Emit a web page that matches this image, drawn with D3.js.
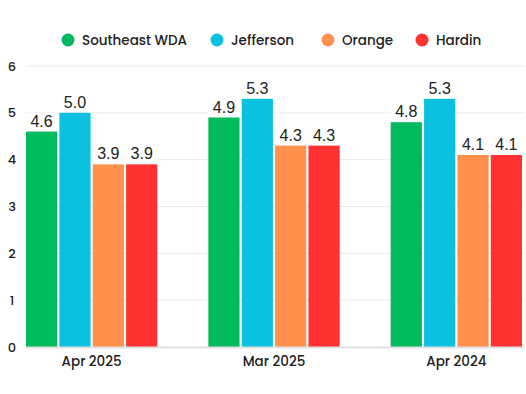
<!DOCTYPE html>
<html><head><meta charset="utf-8">
<script src="https://cdn.jsdelivr.net/npm/d3@7"></script>
<style>body{margin:0;background:#fff}svg{display:block}</style>
</head><body><svg id="c" width="526" height="394"></svg>
<script>
const categories = ["Apr 2025", "Mar 2025", "Apr 2024"];
const seriesNames = ["Southeast WDA", "Jefferson", "Orange", "Hardin"];
const seriesColors = ["#00BA5E", "#0CC0DF", "#FF914D", "#FF3131"];
const southeast = [4.6, 4.9, 4.8];
const jefferson = [5.0, 5.3, 5.3];
const orange = [3.9, 4.3, 4.1];
const hardin = [3.9, 4.3, 4.1];
const yTicks = [0, 1, 2, 3, 4, 5, 6];

const seriesValues = [southeast, jefferson, orange, hardin];
const svg = d3.select("#c");
const x0 = d3.scaleBand().domain(categories).range([26, 522]).paddingInner(0.28).paddingOuter(0);
const x1 = d3.scaleBand().domain(seriesNames).range([0, x0.bandwidth()]).paddingInner(0.065);
const y = d3.scaleLinear().domain([0, 6]).range([347, 66]);
const font = "Poppins, Inter, 'Open Sans', sans-serif";

// grid
svg.append("g").selectAll("line").data(yTicks.filter(d => d > 0)).join("line")
  .attr("x1", 26).attr("x2", 524).attr("y1", d => y(d)).attr("y2", d => y(d))
  .attr("stroke", "#ebebeb").attr("stroke-width", 1);

// y labels
svg.append("g").selectAll("text").data(yTicks).join("text")
  .attr("x", 12).attr("y", d => y(d)).attr("dy", "0.35em").attr("text-anchor", "middle")
  .attr("font-family", font).attr("font-size", 13).attr("font-weight", 500).attr("fill", "#222")
  .text(d => d);

// bars
const groups = svg.append("g").selectAll("g").data(categories).join("g")
  .attr("transform", d => `translate(${x0(d)},0)`);
groups.each(function(cat, ci) {
  const g = d3.select(this);
  const data = seriesNames.map((s, si) => ({s, si, v: seriesValues[si][ci]}));
  g.selectAll("rect").data(data).join("rect")
    .attr("x", d => x1(d.s)).attr("width", x1.bandwidth())
    .attr("y", d => y(d.v)).attr("height", d => y(0) - y(d.v))
    .attr("fill", d => seriesColors[d.si]);
  g.selectAll("rect.bg").data(data).join("rect").attr("class", "bg")
    .attr("x", d => x1(d.s)).attr("width", x1.bandwidth())
    .attr("y", d => y(d.v) - 19).attr("height", 18).attr("fill", "#fff");
  g.selectAll("text").data(data).join("text")
    .attr("x", d => x1(d.s) + x1.bandwidth() / 2).attr("y", d => y(d.v) - 5)
    .attr("text-anchor", "middle").attr("font-family", "'Liberation Sans', Arial, sans-serif")
    .attr("font-size", 16).attr("fill", "#222").text(d => d.v.toFixed(1));
});

// baseline
svg.append("line").attr("x1", 26).attr("x2", 524).attr("y1", y(0) + 0.5).attr("y2", y(0) + 0.5)
  .attr("stroke", "#e0e0e0").attr("stroke-width", 2);

// x labels
svg.append("g").selectAll("text").data(categories).join("text")
  .attr("x", d => x0(d) + x0.bandwidth() / 2).attr("y", 361).attr("dy", "0.35em")
  .attr("text-anchor", "middle").attr("font-family", font).attr("font-size", 13.5)
  .attr("font-weight", 500).attr("fill", "#222").text(d => d);

// legend
const legX = [68, 217, 328, 422];
const leg = svg.append("g").selectAll("g").data(seriesNames).join("g")
  .attr("transform", (d, i) => `translate(${legX[i]},40)`);
leg.append("circle").attr("r", 6.5).attr("fill", (d, i) => seriesColors[i]);
leg.append("text").attr("x", 14).attr("dy", "0.35em").attr("font-family", font)
  .attr("font-size", 13.5).attr("font-weight", 500).attr("fill", "#222").text(d => d);
</script></body></html>
